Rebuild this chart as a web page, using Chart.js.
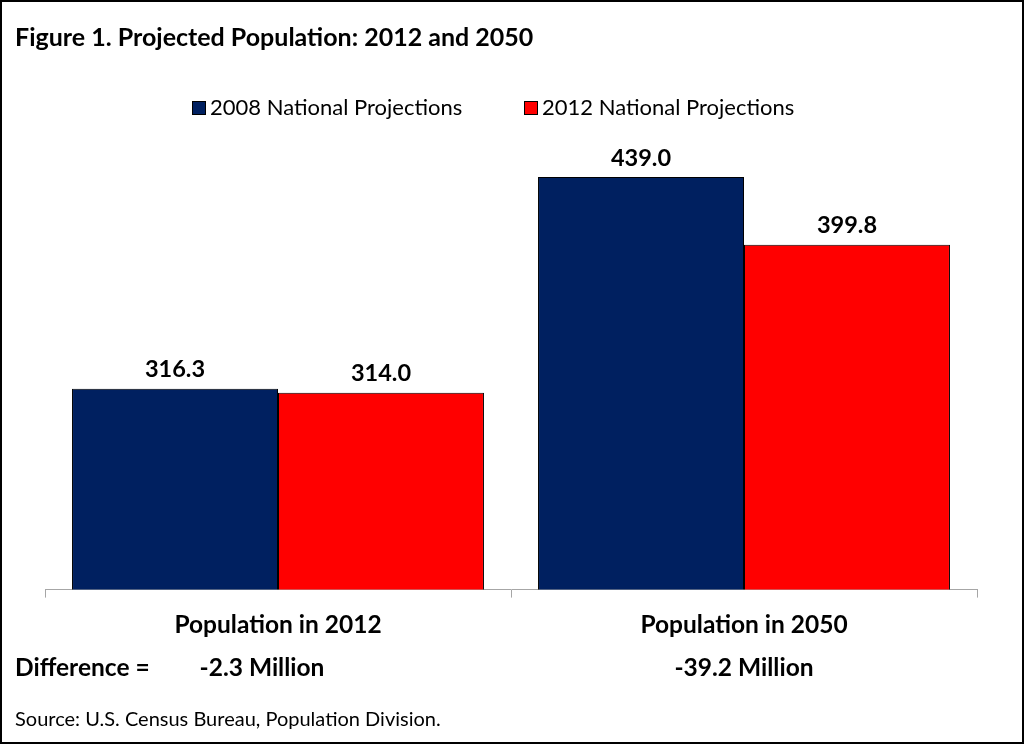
<!DOCTYPE html>
<html>
<head>
<meta charset="utf-8">
<script src="https://cdn.jsdelivr.net/npm/chart.js@4.4.1/dist/chart.umd.min.js"></script>
<style>
  html, body { margin: 0; padding: 0; background: #fff; }
  #wrap { width: 1024px; height: 744px; position: relative; }
</style>
</head>
<body>
<div id="wrap"><canvas id="popChart" width="1024" height="744"></canvas></div>
<script>
// chart data
var categories = ["Population in 2012", "Population in 2050"];
var seriesNames = ["2008 National Projections", "2012 National Projections"];
var projections2008 = [316.3, 439.0];
var projections2012 = [314.0, 399.8];
var differences = ["-2.3 Million", "-39.2 Million"];

var FONT = "Lato, 'Open Sans', sans-serif";
var colors = ["#002060", "#ff0000"];

var extrasPlugin = {
    id: "extras",
    afterDatasetsDraw: function(chart) {
        var ctx = chart.ctx;
        ctx.save();
        ctx.fillStyle = "#000";
        ctx.textAlign = "center";
        ctx.textBaseline = "middle";
        ctx.font = "bold 23.5px " + FONT;
        // value labels above bars
        chart.data.datasets.forEach(function(ds, i) {
            chart.getDatasetMeta(i).data.forEach(function(bar, j) {
                ctx.fillText(ds.data[j].toFixed(1), bar.x, bar.y - 19);
            });
        });
        ctx.restore();
    },
    afterDraw: function(chart) {
        var ctx = chart.ctx;
        ctx.save();
        ctx.fillStyle = "#000";
        ctx.textBaseline = "middle";

        // title
        ctx.textAlign = "left";
        ctx.font = "bold 25px " + FONT;
        ctx.fillText("Figure 1. Projected Population: 2012 and 2050", 15, 38);

        // legend
        ctx.font = "22px " + FONT;
        var legendX = [192, 524];
        seriesNames.forEach(function(name, i) {
            ctx.fillStyle = colors[i];
            ctx.fillRect(legendX[i], 101, 13, 13);
            ctx.strokeStyle = "#000";
            ctx.lineWidth = 1;
            ctx.strokeRect(legendX[i] + 0.5, 101.5, 13, 13);
            ctx.fillStyle = "#000";
            ctx.fillText(name, legendX[i] + 18, 108);
        });

        // difference row
        ctx.font = "bold 24.5px " + FONT;
        ctx.fillText("Difference =", 15, 668);
        ctx.textAlign = "center";
        ctx.fillText(differences[0], 262, 668);
        ctx.fillText(differences[1], chart.scales.x.getPixelForValue(1), 668);

        // source
        ctx.textAlign = "left";
        ctx.font = "20px " + FONT;
        ctx.fillText("Source: U.S. Census Bureau, Population Division.", 15, 720);

        // frame
        ctx.strokeStyle = "#000";
        ctx.lineWidth = 2;
        ctx.strokeRect(1, 1, chart.width - 2, chart.height - 2);
        ctx.restore();
    }
};

new Chart(document.getElementById("popChart"), {
    type: "bar",
    data: {
        labels: categories,
        datasets: [
            {
                label: seriesNames[0],
                backgroundColor: colors[0],
                borderColor: "#000",
                borderWidth: 1,
                data: projections2008
            },
            {
                label: seriesNames[1],
                backgroundColor: colors[1],
                borderColor: "#000",
                borderWidth: 1,
                data: projections2012
            }
        ]
    },
    options: {
        responsive: false,
        animation: false,
        layout: { padding: { top: 158, left: 45, right: 47, bottom: 91 } },
        datasets: { bar: { categoryPercentage: 0.884, barPercentage: 1.0 } },
        plugins: {
            legend: { display: false },
            title: { display: false },
            tooltip: { enabled: false }
        },
        scales: {
            x: {
                grid: { display: true, drawOnChartArea: false, drawTicks: true, tickLength: 8, color: "#a6a6a6" },
                border: { display: true, color: "#a6a6a6", width: 1 },
                ticks: { color: "#000", padding: 13, font: { family: FONT, size: 24.5, weight: "bold" } }
            },
            y: {
                display: false,
                min: 200,
                max: 450
            }
        }
    },
    plugins: [extrasPlugin]
});
</script>
</body>
</html>
